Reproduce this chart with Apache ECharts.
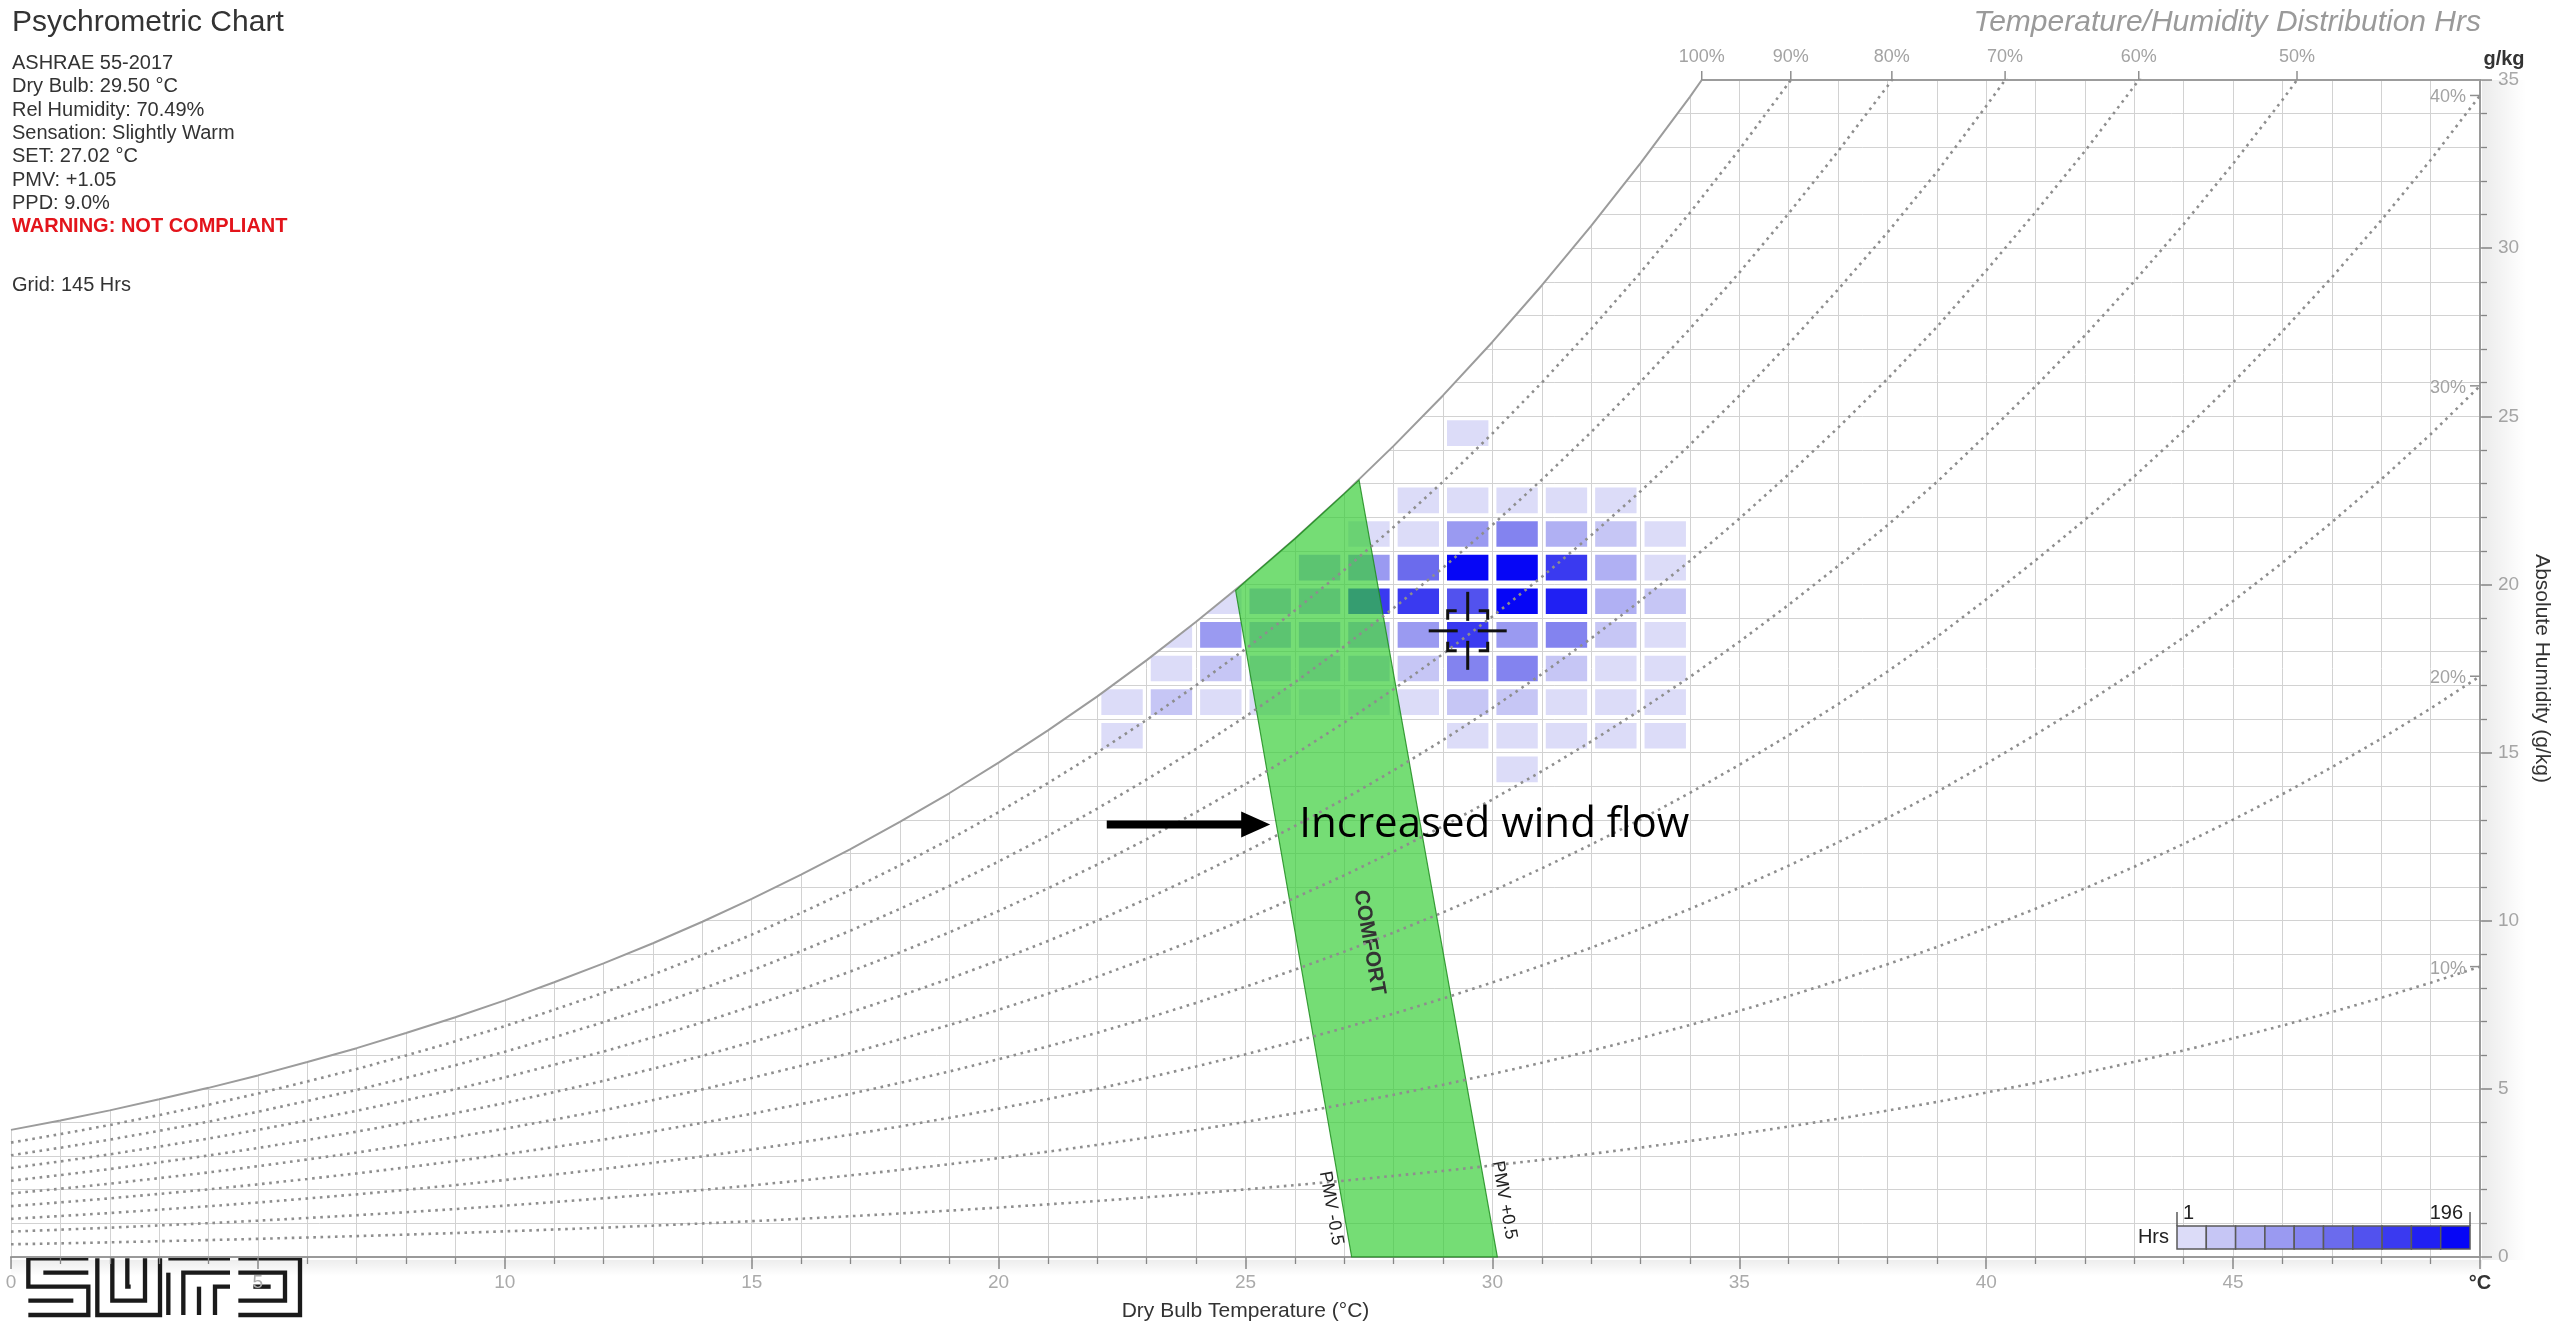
<!DOCTYPE html>
<html>
<head>
<meta charset="utf-8">
<title>Psychrometric Chart</title>
<script src="https://cdn.jsdelivr.net/npm/echarts@6/dist/echarts.min.js"></script>
<style>
  html, body { margin: 0; padding: 0; background: #ffffff; }
  #chart { width: 2560px; height: 1327px; }
</style>
</head>
<body>
<div id="chart"></div>
<script>
// Dry-bulb temperatures (°C) of the saturation table
const satTemps = [0, 1, 2, 3, 4, 5, 6, 7, 8, 9, 10, 11, 12, 13, 14, 15, 16, 17, 18, 19, 20,
  21, 22, 23, 24, 25, 26, 27, 28, 29, 30, 31, 32, 33, 34, 35, 36, 37, 38, 39, 40,
  41, 42, 43, 44, 45, 46, 47, 48, 49, 50];
// Saturation humidity ratio (g/kg dry air) at sea-level pressure
const satHumidity = [3.78, 4.06, 4.36, 4.69, 5.03, 5.40, 5.80, 6.21, 6.66, 7.13, 7.63,
  8.17, 8.73, 9.33, 9.97, 10.65, 11.37, 12.13, 12.94, 13.79, 14.70,
  15.66, 16.67, 17.75, 18.89, 20.09, 21.36, 22.70, 24.12, 25.62, 27.21,
  28.89, 30.66, 32.53, 34.50, 36.59, 38.79, 41.10, 43.52, 46.09, 48.89,
  51.79, 54.81, 58.03, 61.43, 65.02, 68.82, 72.83, 77.07, 81.55, 86.35];
// Percentage-saturation curves (dotted)
const rhLevels = [90, 80, 70, 60, 50, 40, 30, 20, 10];
// Curves that get a label on the top / right edge
const rhLabelLevels = [100, 90, 80, 70, 60, 50, 40, 30, 20, 10];

// ASHRAE 55 comfort band edges: [dry bulb °C, humidity g/kg]
const pmvLowEdge = [[27.15, 0], [24.8, 19.82]];
const pmvHighEdge = [[30.1, 0], [27.3, 23.1]];

// Current reading
const dryBulb = 29.5;
const relHumidity = 70.49;

// Hours in each 1 °C x 1 g/kg cell: [dry bulb from, humidity from, hours]
const hourCells = [
  [29, 24, 9],
  [28, 22, 12], [29, 22, 10], [30, 22, 14], [31, 22, 8], [32, 22, 6],
  [27, 21, 8], [28, 21, 15], [29, 21, 72], [30, 21, 92], [31, 21, 58], [32, 21, 26], [33, 21, 7],
  [26, 20, 52], [27, 20, 74], [28, 20, 110], [29, 20, 196], [30, 20, 190], [31, 20, 150], [32, 20, 48], [33, 20, 14],
  [24, 19, 10], [25, 19, 46], [26, 19, 54], [27, 19, 152], [28, 19, 142], [29, 19, 128], [30, 19, 188], [31, 19, 172], [32, 19, 50], [33, 19, 28],
  [23, 18, 6], [24, 18, 64], [25, 18, 50], [26, 18, 56], [27, 18, 52], [28, 18, 70], [29, 18, 145], [30, 18, 60], [31, 18, 90], [32, 18, 30], [33, 18, 9],
  [23, 17, 14], [24, 17, 24], [25, 17, 32], [26, 17, 30], [27, 17, 28], [28, 17, 34], [29, 17, 86], [30, 17, 94], [31, 17, 33], [32, 17, 12], [33, 17, 10],
  [22, 16, 13], [23, 16, 22], [24, 16, 15], [25, 16, 10], [26, 16, 12], [27, 16, 9], [28, 16, 16], [29, 16, 30], [30, 16, 27], [31, 16, 11], [32, 16, 9], [33, 16, 7],
  [22, 15, 11], [29, 15, 12], [30, 15, 9], [31, 15, 10], [32, 15, 16], [33, 15, 8],
  [30, 14, 5]
];

// Hours colour scale
const hrsMin = 1;
const hrsMax = 196;
const hrsColors = ['#dcdcf8', '#c6c6f5', '#b0b0f3', '#9a9af1', '#8383ef',
  '#6b6bed', '#5252ee', '#3a3af0', '#2020f3', '#0606f6'];

// Readout block
const infoLines = ['ASHRAE 55-2017', 'Dry Bulb: 29.50 °C', 'Rel Humidity: 70.49%',
  'Sensation: Slightly Warm', 'SET: 27.02 °C', 'PMV: +1.05', 'PPD: 9.0%'];
const warningText = 'WARNING: NOT COMPLIANT';
const gridText = 'Grid: 145 Hrs';

const TEMP_MAX = 50;
const HUM_MAX = 35;
const FONT = '"Liberation Sans", Arial, sans-serif';

function satAt(t) {
  let i = Math.floor(t - satTemps[0]);
  i = Math.max(0, Math.min(satTemps.length - 2, i));
  const f = (t - satTemps[i]) / (satTemps[i + 1] - satTemps[i]);
  return satHumidity[i] + f * (satHumidity[i + 1] - satHumidity[i]);
}
// temperature where a percentage-saturation curve reaches the top of the chart
function topCrossing(level) {
  for (let i = 0; i < satTemps.length - 1; i++) {
    const a = satHumidity[i] * level / 100, b = satHumidity[i + 1] * level / 100;
    if (a <= HUM_MAX && b >= HUM_MAX) {
      return satTemps[i] + (HUM_MAX - a) / (b - a) * (satTemps[i + 1] - satTemps[i]);
    }
  }
  return null;
}
function hrsColor(v) {
  const step = (hrsMax - hrsMin) / hrsColors.length;
  const k = Math.max(0, Math.min(hrsColors.length - 1, Math.floor((v - hrsMin) / step)));
  return hrsColors[k];
}

// saturation curve, closed along the top edge of the chart
const satTop = topCrossing(100);
const satCurve = [];
satTemps.forEach((t, i) => { if (satHumidity[i] < HUM_MAX) satCurve.push([t, satHumidity[i]]); });
satCurve.push([satTop, HUM_MAX], [TEMP_MAX, HUM_MAX]);

const chart = echarts.init(document.getElementById('chart'), null, { renderer: 'canvas' });

const rhSeries = rhLevels.map(level => ({
  type: 'line',
  name: level + '%',
  data: satTemps.map((t, i) => [t, satHumidity[i] * level / 100]),
  symbol: 'none',
  silent: true,
  z: 5,
  clip: true,
  lineStyle: { color: '#8e8e8e', width: 2.6, type: [2.6, 4.6] }
}));

// legend boxes
const legendX = 2177, legendY = 1226, legendW = 29.3, legendH = 23;
const legendEls = hrsColors.map((c, i) => ({
  type: 'rect', z: 100,
  shape: { x: legendX + i * legendW, y: legendY, width: legendW, height: legendH },
  style: { fill: c, stroke: '#5a5a5a', lineWidth: 1.5 }
}));
legendEls.push(
  { type: 'line', z: 100, shape: { x1: legendX, y1: legendY, x2: legendX, y2: legendY - 14 }, style: { stroke: '#5a5a5a', lineWidth: 1.5 } },
  { type: 'line', z: 100, shape: { x1: legendX + 10 * legendW, y1: legendY, x2: legendX + 10 * legendW, y2: legendY - 14 }, style: { stroke: '#5a5a5a', lineWidth: 1.5 } },
  { type: 'text', z: 100, x: legendX - 8, y: legendY + legendH / 2, style: { text: 'Hrs', fill: '#222', font: '20px ' + FONT, align: 'right', verticalAlign: 'middle' } },
  { type: 'text', z: 100, x: legendX + 6, y: legendY - 13, style: { text: String(hrsMin), fill: '#222', font: '20px ' + FONT, align: 'left', verticalAlign: 'middle' } },
  { type: 'text', z: 100, x: legendX + 10 * legendW - 7, y: legendY - 13, style: { text: String(hrsMax), fill: '#222', font: '20px ' + FONT, align: 'right', verticalAlign: 'middle' } }
);

// logo strokes (local units)
const logoStrokes = [
  [[205, 25], [25, 25], [25, 110], [205, 110], [205, 195], [25, 195]],
  [[205, 68], [70, 68]],
  [[25, 152], [160, 152]],
  [[232, 25], [232, 195], [420, 195], [420, 25]],
  [[277, 25], [277, 152], [375, 152], [375, 25]],
  [[322, 25], [322, 110], [332, 110]],
  [[445, 25], [630, 25]],
  [[445, 68], [445, 195]],
  [[490, 195], [490, 68], [630, 68]],
  [[537, 195], [537, 110]],
  [[585, 195], [585, 110], [630, 110]],
  [[655, 25], [840, 25], [840, 195], [655, 195]],
  [[655, 68], [795, 68], [795, 152], [655, 152]],
  [[700, 110], [752, 110]]
];

const textEls = [
  { type: 'text', x: 12, y: 23, style: { text: 'Psychrometric Chart', fill: '#333', font: '30px ' + FONT, verticalAlign: 'middle' } },
  { type: 'text', x: 2481, y: 23, style: { text: 'Temperature/Humidity Distribution Hrs', fill: '#9a9a9a', font: 'italic 30px ' + FONT, align: 'right', verticalAlign: 'middle' } },
  { type: 'text', x: 2504, y: 59, style: { text: 'g/kg', fill: '#333', font: 'bold 20px ' + FONT, align: 'center', verticalAlign: 'middle' } }
];
infoLines.forEach((s, i) => textEls.push({ type: 'text', x: 12, y: 63.5 + i * 23.3, style: { text: s, fill: '#333', font: '20px ' + FONT, verticalAlign: 'middle' } }));
textEls.push({ type: 'text', x: 12, y: 63.5 + 7 * 23.3, style: { text: warningText, fill: '#e3141b', font: 'bold 20px ' + FONT, verticalAlign: 'middle' } });
textEls.push({ type: 'text', x: 12, y: 285, style: { text: gridText, fill: '#333', font: '20px ' + FONT, verticalAlign: 'middle' } });

const option = {
  animation: false,
  backgroundColor: '#ffffff',
  grid: { left: 11, right: 79, top: 80, bottom: 68, containLabel: false },
  xAxis: {
    type: 'value', min: 0, max: TEMP_MAX, interval: 5, position: 'bottom',
    axisLine: { show: true, onZero: false, lineStyle: { color: '#9a9a9a', width: 2 } },
    axisTick: { show: true, length: 12, lineStyle: { color: '#8f8f8f', width: 1.5 } },
    minorTick: { show: true, splitNumber: 5, length: 7, lineStyle: { color: '#8f8f8f', width: 1.3 } },
    splitLine: { show: true, lineStyle: { color: '#d2d2d2', width: 1 } },
    minorSplitLine: { show: true, lineStyle: { color: '#d2d2d2', width: 1 } },
    axisLabel: {
      color: '#aaaaaa', fontSize: 19, fontFamily: FONT, margin: 16, showMaxLabel: true, showMinLabel: true,
      formatter: v => (v === TEMP_MAX ? '{u|°C}' : String(v)),
      rich: { u: { color: '#333', fontWeight: 'bold', fontSize: 20, fontFamily: FONT } }
    },
    name: 'Dry Bulb Temperature (°C)', nameLocation: 'middle', nameGap: 44,
    nameTextStyle: { color: '#333', fontSize: 21, fontFamily: FONT }
  },
  yAxis: {
    type: 'value', min: 0, max: HUM_MAX, interval: 5, position: 'right',
    axisLine: { show: true, onZero: false, lineStyle: { color: '#9a9a9a', width: 2 } },
    axisTick: { show: true, length: 12, lineStyle: { color: '#8f8f8f', width: 1.5 } },
    minorTick: { show: true, splitNumber: 5, length: 7, lineStyle: { color: '#8f8f8f', width: 1.3 } },
    splitLine: { show: true, lineStyle: { color: '#d2d2d2', width: 1 } },
    minorSplitLine: { show: true, lineStyle: { color: '#d2d2d2', width: 1 } },
    axisLabel: { color: '#aaaaaa', fontSize: 19, fontFamily: FONT, margin: 18, showMaxLabel: true },
    name: 'Absolute Humidity (g/kg)', nameLocation: 'middle', nameRotate: -90, nameGap: 51,
    nameTextStyle: { color: '#333', fontSize: 21, fontFamily: FONT }
  },
  series: [
    // hours distribution
    {
      type: 'custom', name: 'Hrs', z: 2, clip: true, silent: true,
      data: hourCells,
      encode: { x: 0, y: 1 },
      renderItem: (params, api) => {
        const t = api.value(0), w = api.value(1), h = api.value(2);
        const a = api.coord([t, w + 1]);
        const b = api.coord([t + 1, w]);
        return {
          type: 'rect',
          shape: { x: a[0] + 4, y: a[1] + 4, width: b[0] - a[0] - 8, height: b[1] - a[1] - 8 },
          style: { fill: hrsColor(h) }
        };
      }
    },
    // saturation curve; blanks everything above it
    {
      type: 'line', name: '100%', data: satCurve, symbol: 'none', silent: true, z: 3, clip: true,
      lineStyle: { color: '#9c9c9c', width: 2 },
      areaStyle: { color: '#ffffff', opacity: 1, origin: 'end' }
    },
    // comfort band
    {
      type: 'custom', name: 'Comfort', z: 4, silent: true, clip: false,
      data: [[0]],
      renderItem: (params, api) => {
        const lo0 = pmvLowEdge[0], lo1 = pmvLowEdge[1], hi0 = pmvHighEdge[0], hi1 = pmvHighEdge[1];
        const poly = [lo0, hi0, hi1];
        for (let i = satTemps.length - 1; i >= 0; i--) {
          if (satTemps[i] > lo1[0] && satTemps[i] < hi1[0]) poly.push([satTemps[i], satHumidity[i]]);
        }
        poly.push(lo1);
        const pts = poly.map(p => api.coord(p));
        const pLo0 = api.coord(lo0), pLo1 = api.coord(lo1);
        const pHi0 = api.coord(hi0), pHi1 = api.coord(hi1);
        const angLo = Math.atan2(pLo0[1] - pLo1[1], pLo0[0] - pLo1[0]);
        const angHi = Math.atan2(pHi0[1] - pHi1[1], pHi0[0] - pHi1[0]);
        const edgeAt = (e0, e1, w) => e0[0] + (e1[0] - e0[0]) * (w / e1[1]);
        const wc = 9.35;
        const mid = api.coord([(edgeAt(lo0, lo1, wc) + edgeAt(hi0, hi1, wc)) / 2, wc]);
        const wl = 1.45, wr = 1.69;
        const pl = api.coord([edgeAt(lo0, lo1, wl), wl]);
        const pr = api.coord([edgeAt(hi0, hi1, wr), wr]);
        return {
          type: 'group',
          children: [
            { type: 'polygon', shape: { points: pts }, style: { fill: 'rgba(52,205,52,0.68)', stroke: 'rgba(30,140,30,0.85)', lineWidth: 1.2 } },
            { type: 'text', x: mid[0], y: mid[1], rotation: -((angLo + angHi) / 2),
              style: { text: 'COMFORT', fill: '#333', font: 'bold 21px ' + FONT, align: 'center', verticalAlign: 'middle' } },
            { type: 'text', x: pl[0] - 12, y: pl[1], rotation: -angLo,
              style: { text: 'PMV -0.5', fill: '#222', font: '18px ' + FONT, align: 'center', verticalAlign: 'middle' } },
            { type: 'text', x: pr[0] + 17, y: pr[1], rotation: -angHi,
              style: { text: 'PMV +0.5', fill: '#222', font: '18px ' + FONT, align: 'center', verticalAlign: 'middle' } }
          ]
        };
      }
    },
    ...rhSeries,
    // percentage-saturation labels on the chart edges
    {
      type: 'custom', name: 'RH labels', z: 6, silent: true, clip: false,
      data: rhLabelLevels.map(l => [l]),
      renderItem: (params, api) => {
        const level = api.value(0);
        const tx = topCrossing(level);
        const font = '18px ' + FONT;
        if (tx !== null) {
          const p = api.coord([tx, HUM_MAX]);
          return {
            type: 'group', children: [
              { type: 'line', shape: { x1: p[0], y1: p[1], x2: p[0], y2: p[1] - 9 }, style: { stroke: '#8f8f8f', lineWidth: 1.5 } },
              { type: 'text', x: p[0], y: p[1] - 14, style: { text: level + '%', fill: '#a3a3a3', font: font, align: 'center', verticalAlign: 'bottom' } }
            ]
          };
        }
        const wEnd = satHumidity[satHumidity.length - 1] * level / 100;
        const p = api.coord([TEMP_MAX, wEnd]);
        return {
          type: 'group', children: [
            { type: 'line', shape: { x1: p[0] - 10, y1: p[1], x2: p[0], y2: p[1] }, style: { stroke: '#8f8f8f', lineWidth: 1.5 } },
            { type: 'text', x: p[0] - 14, y: p[1] + 2, style: { text: level + '%', fill: '#a3a3a3', font: font, align: 'right', verticalAlign: 'middle' } }
          ]
        };
      }
    },
    // current reading cursor
    {
      type: 'custom', name: 'Reading', z: 7, silent: true, clip: false,
      data: [[dryBulb, relHumidity]],
      renderItem: (params, api) => {
        const t = api.value(0), rh = api.value(1);
        const c = api.coord([t, satAt(t) * rh / 100]);
        const L = 39, g = 10, s = 20, arm = 9;
        const st = { stroke: '#111', lineWidth: 3, fill: null };
        const ln = (x1, y1, x2, y2) => ({ type: 'line', shape: { x1, y1, x2, y2 }, style: st });
        const corner = (sx, sy) => ({ type: 'polyline', shape: { points: [[c[0] + sx * s, c[1] + sy * (s - arm)], [c[0] + sx * s, c[1] + sy * s], [c[0] + sx * (s - arm), c[1] + sy * s]] }, style: st });
        return {
          type: 'group', children: [
            ln(c[0] - L, c[1], c[0] - g, c[1]), ln(c[0] + g, c[1], c[0] + L, c[1]),
            ln(c[0], c[1] - L, c[0], c[1] - g), ln(c[0], c[1] + g, c[0], c[1] + L),
            corner(-1, -1), corner(1, -1), corner(-1, 1), corner(1, 1)
          ]
        };
      }
    },
    // wind-flow annotation
    {
      type: 'custom', name: 'Note', z: 8, silent: true, clip: false,
      data: [[0]],
      renderItem: (params, api) => {
        const a = api.coord([22.19, 12.86]);
        const b = api.coord([25.5, 12.86]);
        const t = api.coord([26.09, 12.86]);
        const head = 29, half = 13;
        return {
          type: 'group', children: [
            { type: 'line', shape: { x1: a[0], y1: a[1], x2: b[0] - head + 2, y2: b[1] }, style: { stroke: '#000', lineWidth: 8 } },
            { type: 'polygon', shape: { points: [[b[0], b[1]], [b[0] - head, b[1] - half], [b[0] - head, b[1] + half]] }, style: { fill: '#000' } },
            { type: 'text', x: t[0], y: t[1], style: { text: 'Increased wind flow', fill: '#000', font: '42px "Open Sans", Lato, sans-serif', align: 'left', verticalAlign: 'middle' } }
          ]
        };
      }
    }
  ],
  graphic: [
    // soft shadow along the right and bottom axes
    { type: 'rect', z: 1, silent: true, shape: { x: 2482, y: 80, width: 44, height: 1180 },
      style: { fill: new echarts.graphic.LinearGradient(0, 0, 1, 0, [{ offset: 0, color: 'rgba(0,0,0,0.08)' }, { offset: 1, color: 'rgba(0,0,0,0)' }]) } },
    { type: 'rect', z: 1, silent: true, shape: { x: 11, y: 1260, width: 2471, height: 16 },
      style: { fill: new echarts.graphic.LinearGradient(0, 0, 0, 1, [{ offset: 0, color: 'rgba(0,0,0,0.07)' }, { offset: 1, color: 'rgba(0,0,0,0)' }]) } },
    ...textEls.map(e => Object.assign({ z: 100 }, e)),
    ...legendEls,
    {
      type: 'group', x: 20, y: 1250, scaleX: 1 / 3, scaleY: 1 / 3, z: 100,
      children: logoStrokes.map(pts => ({ type: 'polyline', shape: { points: pts }, style: { stroke: '#1a1a1a', lineWidth: 13, fill: null, lineCap: 'butt', lineJoin: 'miter' } }))
    }
  ]
};

chart.setOption(option);
</script>
</body>
</html>
